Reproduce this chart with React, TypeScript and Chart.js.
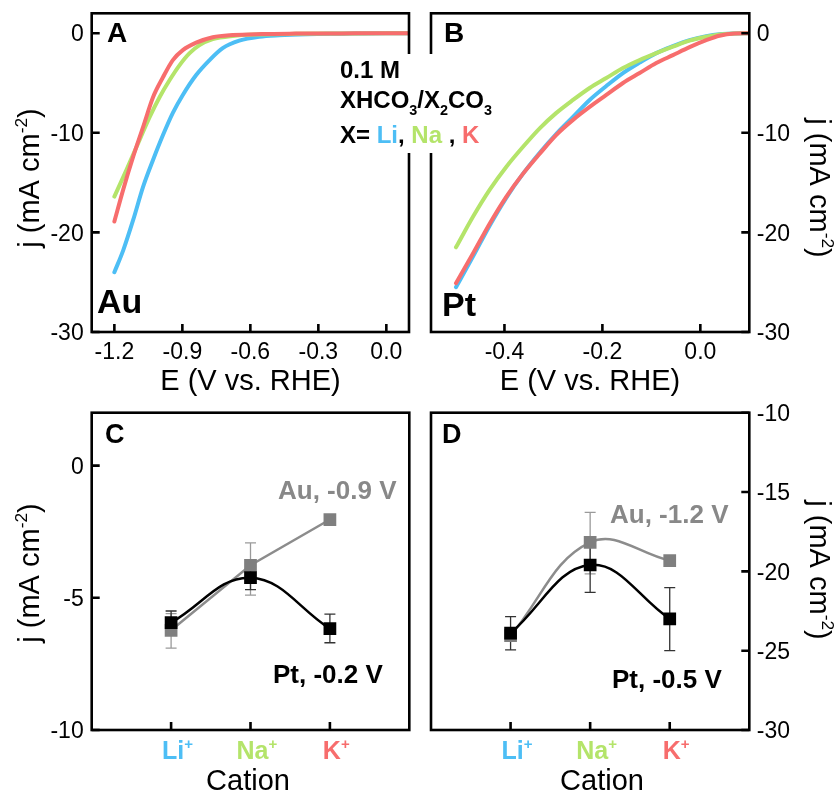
import React, { useEffect, useRef } from 'react';
import { Chart, registerables } from 'chart.js';
Chart.register(...registerables);

const W = 837;
const H = 794;
const FONT = '"Liberation Sans", Arial, Helvetica, sans-serif';
const BLUE = '#4DBEF5';
const GREEN = '#B4E46A';
const RED = '#F76D6D';
const GRAY_TXT = '#888888';

// ---------- Panel A: Au LSV ----------
const AU_E_LI = [-1.2, -1.161, -1.117, -1.073, -1.029, -0.985, -0.942, -0.898, -0.839, -0.78, -0.722, -0.649, -0.561, -0.473, -0.35, -0.2, 0.0, 0.1];
const AU_J_LI = [-24.0, -21.8, -18.75, -15.4, -12.7, -10.2, -8.0, -6.2, -4.2, -2.7, -1.5, -0.75, -0.35, -0.2, -0.1, -0.05, 0, 0];
const AU_E_NA = [-1.2, -1.146, -1.102, -1.044, -1.0, -0.956, -0.912, -0.868, -0.824, -0.766, -0.678, -0.55, -0.4, -0.2, 0.0, 0.1];
const AU_J_NA = [-16.4, -13.7, -11.4, -8.4, -6.4, -4.7, -3.2, -2.0, -1.2, -0.6, -0.27, -0.12, -0.06, -0.03, 0, 0];
const AU_E_K = [-1.2, -1.161, -1.117, -1.073, -1.029, -0.985, -0.942, -0.898, -0.839, -0.766, -0.678, -0.55, -0.4, -0.2, 0.0, 0.1];
const AU_J_K = [-18.9, -15.7, -12.4, -9.4, -6.4, -4.4, -2.7, -1.7, -0.95, -0.4, -0.18, -0.08, -0.04, -0.02, 0, 0];
const A_X_TICKS = [-1.2, -0.9, -0.6, -0.3, 0.0];
const A_X_LABELS = ['-1.2', '-0.9', '-0.6', '-0.3', '0.0'];
const AB_Y_TICKS = [-30, -20, -10, 0];
const AB_Y_LABELS = ['-30', '-20', '-10', '0'];

// ---------- Panel B: Pt LSV ----------
const PT_E = [-0.499, -0.464, -0.43, -0.396, -0.362, -0.328, -0.294, -0.26, -0.226, -0.192, -0.158, -0.124, -0.09, -0.056, -0.022, 0.012, 0.039, 0.07, 0.1];
const PT_J_LI = [-25.5, -22.4, -19.3, -16.5, -14.1, -12.0, -10.1, -8.4, -6.7, -5.3, -4.0, -2.95, -2.0, -1.3, -0.7, -0.3, -0.1, -0.02, 0];
const PT_J_NA = [-21.5, -18.4, -15.7, -13.4, -11.4, -9.55, -8.0, -6.7, -5.5, -4.5, -3.5, -2.7, -2.0, -1.35, -0.75, -0.35, -0.12, -0.02, 0];
const PT_J_K = [-25.1, -22.1, -19.1, -16.4, -14.1, -12.1, -10.2, -8.7, -7.4, -6.2, -5.0, -4.0, -3.0, -2.2, -1.4, -0.7, -0.25, -0.03, 0];
const B_X_TICKS = [-0.4, -0.2, 0.0];
const B_X_LABELS = ['-0.4', '-0.2', '0.0'];

// ---------- Panels C, D: cation dependence ----------
const CATIONS = ['Li', 'Na', 'K'];
const CATION_COLORS = [BLUE, GREEN, RED];
const C_AU = [-6.23, -3.77, -2.04];
const C_AU_LO = [-6.9, -4.9, -2.12];
const C_AU_HI = [-5.6, -2.92, -1.96];
const C_PT = [-5.94, -4.24, -6.17];
const C_PT_LO = [-6.35, -4.69, -6.7];
const C_PT_HI = [-5.5, -3.8, -5.62];
const C_Y_TICKS = [-10, -5, 0];
const C_Y_LABELS = ['-10', '-5', '0'];

const D_AU = [-24.05, -18.17, -19.32];
const D_AU_LO = [-24.4, -20.16, -19.5];
const D_AU_HI = [-23.7, -16.28, -19.1];
const D_PT = [-23.9, -19.6, -23.0];
const D_PT_LO = [-24.95, -21.32, -25.0];
const D_PT_HI = [-22.85, -17.9, -21.03];
const D_Y_TICKS = [-30, -25, -20, -15, -10];
const D_Y_LABELS = ['-30', '-25', '-20', '-15', '-10'];

type Seg = { t: string; c?: string; k?: 'sup' | 'sub' };

function fontStr(size: number, bold: boolean) {
  return `${bold ? 'bold ' : ''}${size}px ${FONT}`;
}

function drawRich(ctx: CanvasRenderingContext2D, segs: Seg[], x: number, y: number, size: number, bold: boolean, align: 'left' | 'center' | 'right', defColor = '#000') {
  const sz = (s: Seg) => (s.k ? size * 0.6 : size);
  const widths = segs.map((s) => {
    ctx.font = fontStr(sz(s), bold);
    return ctx.measureText(s.t).width;
  });
  const total = widths.reduce((a, b) => a + b, 0);
  let cx = align === 'left' ? x : align === 'center' ? x - total / 2 : x - total;
  ctx.textAlign = 'left';
  ctx.textBaseline = 'alphabetic';
  segs.forEach((s, i) => {
    ctx.font = fontStr(sz(s), bold);
    ctx.fillStyle = s.c || defColor;
    const dy = s.k === 'sup' ? -size * 0.4 : s.k === 'sub' ? size * 0.28 : 0;
    ctx.fillText(s.t, cx, y + dy);
    cx += widths[i];
  });
  return total;
}

const Y_TITLE: Seg[] = [{ t: 'j (mA cm' }, { t: '-2', k: 'sup' }, { t: ')' }];

type ErrSpec = { vals: number[]; lo: number[]; hi: number[]; color: string };

type Panel = {
  area: [number, number, number, number];
  xMin: number; xMax: number; yMin: number; yMax: number;
  datasets: any[];
  xTicks: number[];
  xLabels?: string[];
  cat?: boolean;
  yTicks: number[];
  yLabels: string[];
  ySide: 'left' | 'right';
  xTitle: { text: string; x: number; y: number };
  yTitle: { x: number; y: number };
  errors?: ErrSpec[];
  extra?: (ctx: CanvasRenderingContext2D) => void;
};

function curve(E: number[], J: number[], color: string) {
  return {
    data: E.map((e, i) => ({ x: e, y: J[i] })),
    borderColor: color,
    borderWidth: 4,
    pointRadius: 0,
    cubicInterpolationMode: 'monotone',
    fill: false,
    borderCapStyle: 'round',
    borderJoinStyle: 'round',
  };
}

function catSeries(vals: number[], color: string, lineColor: string, tension: number) {
  return {
    data: vals.map((v, i) => ({ x: i, y: v })),
    borderColor: lineColor,
    borderWidth: 2.5,
    tension,
    pointStyle: 'rect',
    pointRadius: 9,
    pointBackgroundColor: color,
    pointBorderWidth: 0,
    fill: false,
  };
}

function makePlugin(p: Panel) {
  return {
    id: 'deco',
    beforeDatasetsDraw(chart: any) {
      if (!p.errors) return;
      const ctx: CanvasRenderingContext2D = chart.ctx;
      const xs = chart.scales.x;
      const ys = chart.scales.y;
      ctx.save();
      p.errors.forEach((e) => {
        ctx.strokeStyle = e.color;
        ctx.lineWidth = 1.3;
        e.vals.forEach((_, i) => {
          const x = xs.getPixelForValue(i);
          const yl = ys.getPixelForValue(e.lo[i]);
          const yh = ys.getPixelForValue(e.hi[i]);
          ctx.beginPath();
          ctx.moveTo(x, yl); ctx.lineTo(x, yh);
          ctx.moveTo(x - 5.5, yl); ctx.lineTo(x + 5.5, yl);
          ctx.moveTo(x - 5.5, yh); ctx.lineTo(x + 5.5, yh);
          ctx.stroke();
        });
      });
      ctx.restore();
    },
    afterDraw(chart: any) {
      const ctx: CanvasRenderingContext2D = chart.ctx;
      const xs = chart.scales.x;
      const ys = chart.scales.y;
      const { left, top, right, bottom } = chart.chartArea;
      ctx.save();
      ctx.strokeStyle = '#000';
      ctx.lineWidth = 2.6;
      ctx.lineCap = 'butt';
      // inward ticks
      ctx.beginPath();
      p.xTicks.forEach((v) => {
        const x = xs.getPixelForValue(v);
        ctx.moveTo(x, bottom); ctx.lineTo(x, bottom - 8);
      });
      p.yTicks.forEach((v) => {
        const y = ys.getPixelForValue(v);
        if (p.ySide === 'left') { ctx.moveTo(left, y); ctx.lineTo(left + 8, y); }
        else { ctx.moveTo(right, y); ctx.lineTo(right - 8, y); }
      });
      ctx.stroke();
      // box
      ctx.lineJoin = 'miter';
      ctx.strokeRect(left, top, right - left, bottom - top);

      // tick labels
      ctx.fillStyle = '#000';
      ctx.font = fontStr(23, false);
      ctx.textBaseline = 'alphabetic';
      p.yTicks.forEach((v, i) => {
        const y = ys.getPixelForValue(v) + 8.2;
        if (p.ySide === 'left') { ctx.textAlign = 'right'; ctx.fillText(p.yLabels[i], left - 8, y); }
        else { ctx.textAlign = 'left'; ctx.fillText(p.yLabels[i], right + 7.5, y); }
      });
      if (p.cat) {
        p.xTicks.forEach((v, i) => {
          const x = xs.getPixelForValue(v);
          ctx.font = fontStr(25, true);
          const bw = ctx.measureText(CATIONS[i]).width;
          drawRich(ctx, [{ t: CATIONS[i], c: CATION_COLORS[i] }, { t: '+', k: 'sup', c: CATION_COLORS[i] }], x + 2 - bw / 2, 758.5, 25, true, 'left');
        });
      } else if (p.xLabels) {
        ctx.font = fontStr(23, false);
        ctx.textAlign = 'center';
        p.xTicks.forEach((v, i) => {
          ctx.fillText(p.xLabels![i], xs.getPixelForValue(v), 358.5);
        });
      }
      // axis titles
      ctx.font = fontStr(29, false);
      ctx.textAlign = 'center';
      ctx.fillStyle = '#000';
      ctx.fillText(p.xTitle.text, p.xTitle.x, p.xTitle.y);
      ctx.save();
      ctx.translate(p.yTitle.x, p.yTitle.y);
      ctx.rotate(p.ySide === 'left' ? -Math.PI / 2 : Math.PI / 2);
      drawRich(ctx, Y_TITLE, 0, 29 * 0.26, 29, false, 'center');
      ctx.restore();
      if (p.extra) p.extra(ctx);
      ctx.restore();
    },
  };
}

function label(ctx: CanvasRenderingContext2D, t: string, x: number, y: number, size: number, color = '#000') {
  ctx.font = fontStr(size, true);
  ctx.fillStyle = color;
  ctx.textAlign = 'left';
  ctx.textBaseline = 'alphabetic';
  ctx.fillText(t, x, y);
}

const PANELS: Panel[] = [
  {
    area: [91.7, 13.3, 409, 332],
    xMin: -1.3, xMax: 0.1, yMin: -30, yMax: 2,
    datasets: [curve(AU_E_K, AU_J_K, RED), curve(AU_E_NA, AU_J_NA, GREEN), curve(AU_E_LI, AU_J_LI, BLUE)],
    xTicks: A_X_TICKS, xLabels: A_X_LABELS,
    yTicks: AB_Y_TICKS, yLabels: AB_Y_LABELS, ySide: 'left',
    xTitle: { text: 'E (V vs. RHE)', x: 250.5, y: 390 },
    yTitle: { x: 31, y: 178 },
    extra: (ctx) => {
      label(ctx, 'A', 107, 42, 28);
      label(ctx, 'Au', 97, 313, 34);
    },
  },
  {
    area: [91.7, 412.7, 409.3, 730],
    xMin: -1, xMax: 3, yMin: -10, yMax: 2,
    datasets: [catSeries(C_PT, '#000', '#000', 0.4), catSeries(C_AU, '#7f7f7f', '#8c8c8c', 0)],
    xTicks: [0, 1, 2], cat: true,
    yTicks: C_Y_TICKS, yLabels: C_Y_LABELS, ySide: 'left',
    xTitle: { text: 'Cation', x: 248, y: 790 },
    yTitle: { x: 31, y: 573 },
    errors: [
      { vals: C_AU, lo: C_AU_LO, hi: C_AU_HI, color: '#9a9a9a' },
      { vals: C_PT, lo: C_PT_LO, hi: C_PT_HI, color: '#333333' },
    ],
    extra: (ctx) => {
      label(ctx, 'C', 105, 443, 27);
      label(ctx, 'Au, -0.9 V', 278, 499, 26, GRAY_TXT);
      label(ctx, 'Pt, -0.2 V', 273, 683, 26);
    },
  },
  {
    area: [431, 13.3, 749.3, 332],
    xMin: -0.55, xMax: 0.1, yMin: -30, yMax: 2,
    datasets: [curve(PT_E, PT_J_K, RED), curve(PT_E, PT_J_NA, GREEN), curve(PT_E, PT_J_LI, BLUE)],
    xTicks: B_X_TICKS, xLabels: B_X_LABELS,
    yTicks: AB_Y_TICKS, yLabels: AB_Y_LABELS, ySide: 'right',
    xTitle: { text: 'E (V vs. RHE)', x: 590, y: 390 },
    yTitle: { x: 818, y: 188 },
    extra: (ctx) => {
      label(ctx, 'B', 444, 42, 28);
      label(ctx, 'Pt', 442, 316, 34);
      ctx.fillStyle = '#fff';
      ctx.fillRect(336, 54, 164, 99);
      label(ctx, '0.1 M', 340, 78, 24);
      drawRich(ctx, [{ t: 'XHCO' }, { t: '3', k: 'sub' }, { t: '/X' }, { t: '2', k: 'sub' }, { t: 'CO' }, { t: '3', k: 'sub' }], 340, 108, 24, true, 'left');
      drawRich(ctx, [{ t: 'X= ' }, { t: 'Li', c: BLUE }, { t: ', ' }, { t: 'Na', c: GREEN }, { t: ' , ' }, { t: 'K', c: RED }], 340, 143, 24, true, 'left');
    },
  },
  {
    area: [431, 412.7, 749.3, 730],
    xMin: -1, xMax: 3, yMin: -30, yMax: -10,
    datasets: [catSeries(D_PT, '#000', '#000', 0.4), catSeries(D_AU, '#7f7f7f', '#8c8c8c', 0.4)],
    xTicks: [0, 1, 2], cat: true,
    yTicks: D_Y_TICKS, yLabels: D_Y_LABELS, ySide: 'right',
    xTitle: { text: 'Cation', x: 602, y: 790 },
    yTitle: { x: 818, y: 570 },
    errors: [
      { vals: D_AU, lo: D_AU_LO, hi: D_AU_HI, color: '#9a9a9a' },
      { vals: D_PT, lo: D_PT_LO, hi: D_PT_HI, color: '#333333' },
    ],
    extra: (ctx) => {
      label(ctx, 'D', 442, 443, 27);
      label(ctx, 'Au, -1.2 V', 610, 523, 26, GRAY_TXT);
      label(ctx, 'Pt, -0.5 V', 612, 688, 26);
    },
  },
];

function PanelChart({ p }: { p: Panel }) {
  const ref = useRef<HTMLCanvasElement | null>(null);
  useEffect(() => {
    if (!ref.current) return;
    const [L, T, R, B] = p.area;
    const chart = new Chart(ref.current, {
      type: 'line',
      data: { datasets: p.datasets },
      options: {
        animation: false,
        responsive: false,
        devicePixelRatio: 1,
        events: [],
        layout: { padding: { left: L, top: T, right: W - R, bottom: H - B } },
        scales: {
          x: { type: 'linear', display: false, min: p.xMin, max: p.xMax },
          y: { type: 'linear', display: false, min: p.yMin, max: p.yMax },
        },
        plugins: { legend: { display: false }, tooltip: { enabled: false } },
      } as any,
      plugins: [makePlugin(p)],
    } as any);
    return () => chart.destroy();
  }, [p]);
  return (
    <canvas
      ref={ref}
      width={W}
      height={H}
      style={{ position: 'absolute', left: 0, top: 0, width: W, height: H }}
    />
  );
}

export default function App() {
  return (
    <div style={{ position: 'absolute', left: 0, top: 0, width: W, height: H, background: '#fff', overflow: 'hidden' }}>
      {PANELS.map((p, i) => (
        <PanelChart key={i} p={p} />
      ))}
    </div>
  );
}
